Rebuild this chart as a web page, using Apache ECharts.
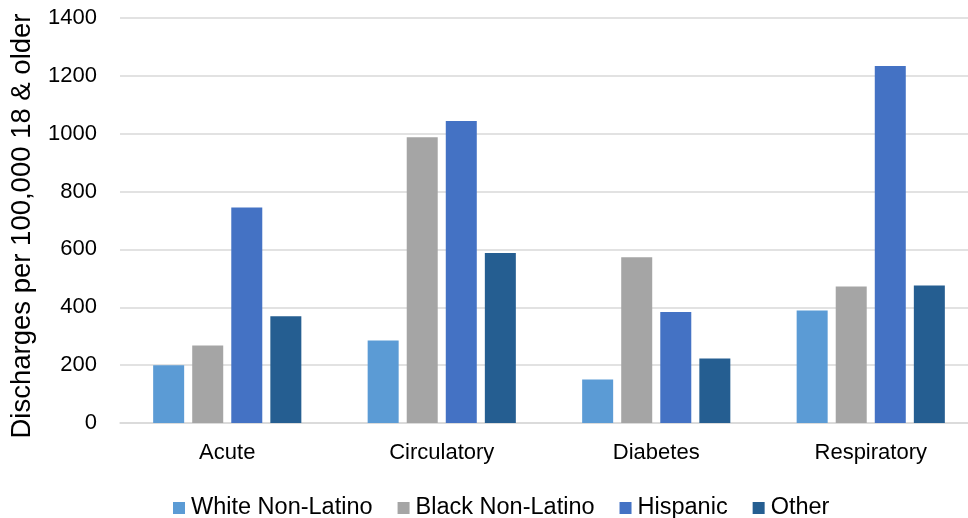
<!DOCTYPE html>
<html>
<head>
<meta charset="utf-8">
<script src="https://cdn.jsdelivr.net/npm/echarts@6/dist/echarts.min.js"></script>
<style>
  html, body { margin: 0; padding: 0; background: #ffffff; }
  #chart { width: 968px; height: 518px; }
</style>
</head>
<body>
<div id="chart"></div>
<script>
// Hospital discharge rates by condition and race/ethnicity
const categories = ['Acute', 'Circulatory', 'Diabetes', 'Respiratory'];
const whiteNonLatino = [200, 285, 150, 389];
const blackNonLatino = [268, 988, 573, 472];
const hispanic = [745, 1044, 384, 1234];
const other = [369, 588, 223, 475];
const seriesNames = ['White Non-Latino', 'Black Non-Latino', 'Hispanic', 'Other'];
const seriesColors = ['#5B9BD5', '#A5A5A5', '#4472C4', '#255E91'];
const yTicks = { min: 0, max: 1400, interval: 200 };

const font = 'Arial, "Liberation Sans", sans-serif';
const seriesData = [whiteNonLatino, blackNonLatino, hispanic, other];

const chart = echarts.init(document.getElementById('chart'), null, { renderer: 'canvas' });
chart.setOption({
  animation: false,
  backgroundColor: '#ffffff',
  textStyle: { fontFamily: font },
  grid: { left: 120, width: 858, top: 18, bottom: 95, containLabel: false, outerBoundsMode: 'none' },
  legend: {
    left: 168,
    top: 491,
    itemWidth: 12,
    itemHeight: 12,
    itemGap: 25,
    icon: 'rect',
    textStyle: { fontSize: 23.5, color: '#000000', fontFamily: font, padding: [0, 0, 0, 1] },
    data: seriesNames
  },
  xAxis: {
    type: 'category',
    data: categories,
    axisLine: { lineStyle: { color: '#d9d9d9', width: 1.5 } },
    axisTick: { show: false },
    axisLabel: { fontSize: 22, color: '#000000', margin: 19, fontFamily: font }
  },
  yAxis: {
    type: 'value',
    min: yTicks.min,
    max: yTicks.max,
    interval: yTicks.interval,
    name: 'Discharges per 100,000 18 & older',
    nameLocation: 'middle',
    nameGap: 84,
    nameRotate: 90,
    nameTextStyle: { fontSize: 27.5, color: '#000000', fontFamily: font, padding: [0, 11, 0, 0] },
    axisLine: { show: false },
    axisTick: { show: false },
    axisLabel: {
      fontSize: 22, color: '#000000', margin: 23, fontFamily: font,
      formatter: (v) => String(v)
    },
    splitLine: { lineStyle: { color: '#d9d9d9', width: 1.5 } }
  },
  series: seriesNames.map((name, i) => ({
    name: name,
    type: 'bar',
    data: seriesData[i],
    barWidth: 31,
    barGap: '26%',
    itemStyle: { color: seriesColors[i] }
  }))
});
</script>
</body>
</html>
